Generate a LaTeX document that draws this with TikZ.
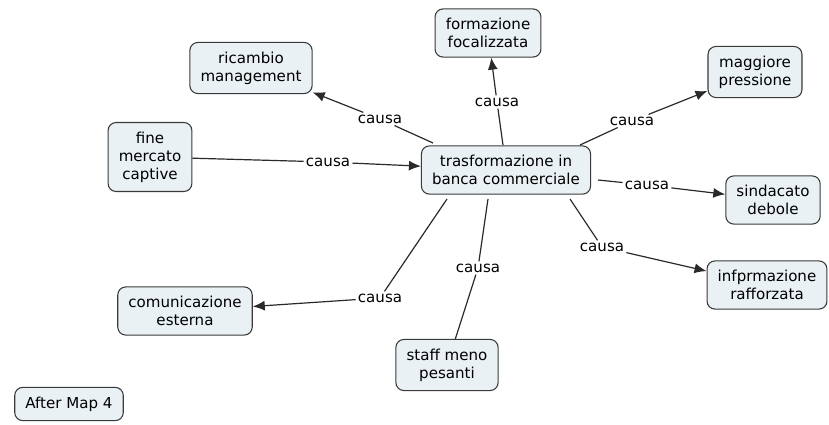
\documentclass[tikz,border=0pt]{standalone}
\usepackage{fontspec}
\setmainfont{DejaVu Sans}
\usetikzlibrary{arrows.meta}
\definecolor{boxfill}{HTML}{E9F1F4}
\definecolor{boxline}{HTML}{3A3A3A}
\definecolor{linkline}{HTML}{2A2A2A}
\begin{document}
\begin{tikzpicture}[x=0.75pt,y=-0.75pt,
  concept/.style={draw=boxline,fill=boxfill,rounded corners=6pt,line width=0.8pt,
    align=center,font=\fontsize{11.3}{13.4}\selectfont,inner xsep=8pt,inner ysep=7pt},
  linkword/.style={fill=white,inner sep=1.5pt,font=\fontsize{11.3}{13.4}\selectfont},
  link/.style={draw=linkline,line width=0.9pt},
  tolink/.style={link,-{Latex[length=9pt,width=7.5pt]}}]
\useasboundingbox (0,0) rectangle (829,425);

% concepts
\node[concept] (core) at (506,170) {trasformazione in\\banca commerciale};
\node[concept] (ricambio) at (251,68) {ricambio\\management};
\node[concept] (formazione) at (488,33) {formazione\\focalizzata};
\node[concept] (maggiore) at (755,72) {maggiore\\pressione};
\node[concept] (fine) at (150,157) {fine\\mercato\\captive};
\node[concept] (sindacato) at (773,200) {sindacato\\debole};
\node[concept] (info) at (767,285) {infprmazione\\rafforzata};
\node[concept] (comunicazione) at (185,311) {comunicazione\\esterna};
\node[concept] (staff) at (447,365) {staff meno\\pesanti};
\node[concept] (after) at (69,404) {After Map 4};

% linking phrases
\node[linkword] (l1) at (380,119) {causa};
\node[linkword] (l2) at (497,102) {causa};
\node[linkword] (l3) at (632,121) {causa};
\node[linkword] (l4) at (328,162) {causa};
\node[linkword] (l5) at (647,185) {causa};
\node[linkword] (l6) at (602,247) {causa};
\node[linkword] (l7) at (380,298) {causa};
\node[linkword] (l8) at (478,268) {causa};

% connectors
\coordinate (c1) at (433,143);
\coordinate (c2) at (503,145);
\coordinate (c3) at (580,145);
\coordinate (c5) at (598,180);
\coordinate (c6) at (570,199);
\coordinate (c7) at (447,199);
\coordinate (c8) at (488,199);

\draw[link] (c1) -- (l1);
\draw[tolink] (l1) -- (ricambio);
\draw[link] (c2) -- (l2);
\draw[tolink] (l2) -- (formazione);
\draw[link] (c3) -- (l3);
\draw[tolink] (l3) -- (maggiore);
\draw[link] (fine) -- (l4);
\draw[tolink] (l4) -- (core);
\draw[link] (c5) -- (l5);
\draw[tolink] (l5) -- (sindacato);
\draw[link] (c6) -- (l6);
\draw[tolink] (l6) -- (info);
\draw[link] (c7) -- (l7);
\draw[tolink] (l7) -- (comunicazione);
\draw[link] (c8) -- (l8);
\draw[link] (l8) -- (staff);
\end{tikzpicture}
\end{document}
